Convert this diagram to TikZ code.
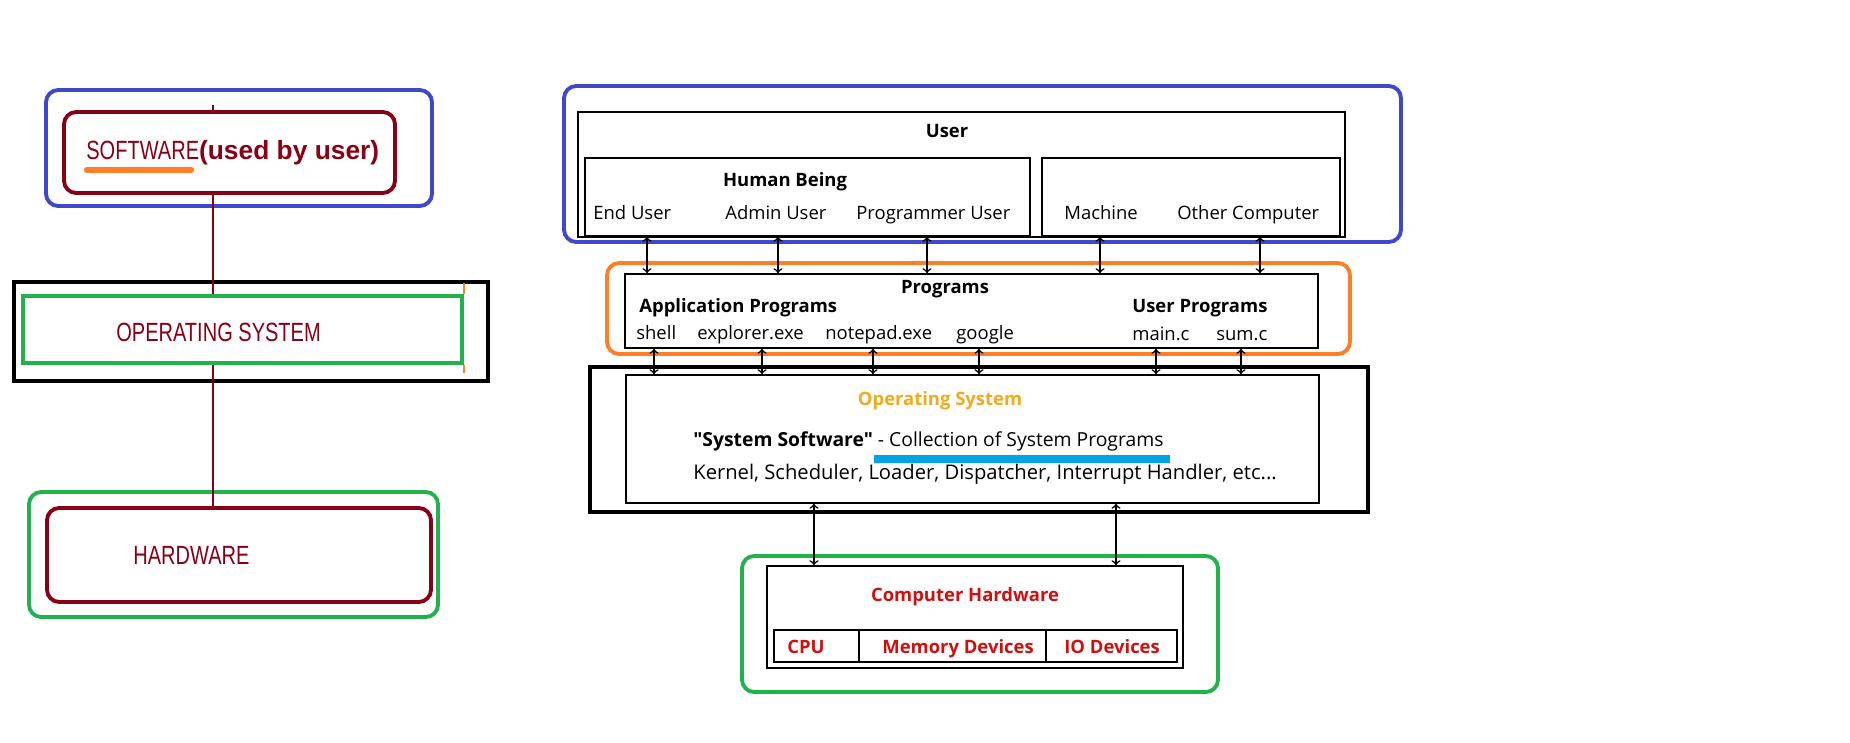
\documentclass[tikz,border=0pt]{standalone}
\usepackage{fontspec}
\usepackage{graphicx}
\setmainfont{Open Sans}
\newfontfamily\quotefont{Open Sans}
\newfontfamily\arialfont{Liberation Sans}
\usetikzlibrary{fit}

\definecolor{swred}{RGB}{136,0,21}
\definecolor{penblue}{RGB}{63,72,204}
\definecolor{pengreen}{RGB}{34,177,76}
\definecolor{penorange}{RGB}{255,127,39}
\definecolor{penskyblue}{RGB}{0,162,232}
\definecolor{ostext}{RGB}{240,172,30}
\definecolor{hwtext}{RGB}{208,16,16}
\newcommand{\condensed}[1]{\scalebox{0.76}[1]{#1}}

\begin{document}
\begin{tikzpicture}[x=0.02cm,y=-0.02cm,
    font=\fontsize{10.5}{12}\selectfont,
    ring/.style={draw,line width=2.2pt,rounded corners=7pt,inner sep=0pt},
    pane/.style={draw,line width=1pt,inner sep=0pt},
    txt/.style={inner sep=0pt,anchor=base west},
    ctxt/.style={inner sep=0pt,anchor=base},
    bigtxt/.style={inner sep=0pt,anchor=base west,text=swred,font=\arialfont\fontsize{15}{18}\selectfont},
    arr/.style={<->,line width=0.9pt}]
    \fill[white] (0,0) rectangle (1850,743);

    % left: software / os / hardware
    \node[ring,penblue,fit={(46,90) (432,206)}] (swring) {};
    \node[ring,swred,fit={(64,112) (395,193)}] (swbox) {};
    \node[bigtxt] (swlbl) at (86,160) {\condensed{SOFTWARE}\textbf{(used by user)}};
    \draw[penorange,line width=3.6pt,line cap=round] (87,170) -- (191,170);

    \node[draw,line width=2.3pt,inner sep=0pt,fit={(14,282) (488,381)}] (osframeL) {};
    \node[draw,pengreen,line width=1.9pt,inner sep=0pt,fit={(23,296) (462,363)}] (osboxL) {};
    \node[bigtxt] (oslblL) at (116,341) {\condensed{OPERATING SYSTEM}};
    \draw[penorange,line width=1.2pt] (osboxL.north east) -- ++(0,-11);
    \draw[penorange,line width=1.2pt] (osboxL.south east) -- ++(0,8);

    \node[ring,pengreen,fit={(29,492) (438,617)}] (hwringL) {};
    \node[ring,swred,fit={(47,508) (431,602)}] (hwboxL) {};
    \node[bigtxt] (hwlblL) at (133,564) {\condensed{HARDWARE}};

    \draw[swred,line width=1.2pt] (swbox.north -| 213,0) -- ++(0,-5);
    \draw[swred,line width=1.2pt] (swbox.south -| 213,0) -- (osboxL.north -| 213,0);
    \draw[swred,line width=1.2pt] (osboxL.south -| 213,0) -- (hwboxL.north -| 213,0);

    % right: user
    \node[ring,penblue,fit={(564,86) (1401,242)}] (userring) {};
    \node[pane,fit={(578,112) (1345,237)}] (user) {};
    \node[pane,fit={(585,158) (1030,236)}] (human) {};
    \node[pane,fit={(1042,158) (1340,236)}] (machine) {};
    \node[ctxt] at (947,138) {\textbf{User}};
    \node[ctxt] at (785,187) {\textbf{Human Being}};
    \node[txt] at (593,220) {End User};
    \node[txt] at (725,220) {Admin User};
    \node[txt] at (856,220) {Programmer User};
    \node[txt] at (1064,220) {Machine};
    \node[txt] at (1177,220) {Other Computer};

    % programs
    \node[ring,penorange,fit={(607,263) (1350,354)}] (progring) {};
    \node[pane,fit={(625,274) (1318,348)}] (prog) {};
    \node[ctxt] at (945,294) {\textbf{Programs}};
    \node[txt] at (639,313) {\textbf{Application Programs}};
    \node[txt] at (1132,313) {\textbf{User Programs}};
    \node[txt] at (636,339) {shell};
    \node[txt] at (697,339) {explorer.exe};
    \node[txt] at (825,339) {notepad.exe};
    \node[txt] at (956,339) {google};
    \node[txt] at (1132,340) {main.c};
    \node[txt] at (1216,340) {sum.c};

    % operating system
    \node[draw,line width=2.7pt,inner sep=0pt,fit={(590,367) (1368,512)}] (osframe) {};
    \node[pane,fit={(626,375) (1319,503)}] (os) {};
    \node[ctxt,text=ostext] at (940,405) {\textbf{Operating System}};
    \node[txt,font=\fontsize{11}{13}\selectfont] at (693,446) {{\quotefont\bfseries "System Software"} - Collection of System Programs};
    \draw[penskyblue,line width=4pt] (874,459) -- (1170,459);
    \node[txt,font=\fontsize{11.5}{13}\selectfont] at (693,479) {Kernel, Scheduler, Loader, Dispatcher, Interrupt Handler, etc...};

    % hardware
    \node[ring,pengreen,fit={(742,556) (1218,692)}] (hwring) {};
    \node[pane,fit={(767,566) (1183,668)}] (hw) {};
    \node[ctxt,text=hwtext] at (965,601) {\textbf{Computer Hardware}};
    \node[pane,fit={(774,630) (859,662)}] (cpu) {};
    \node[pane,fit={(859,630) (1046,662)}] (mem) {};
    \node[pane,fit={(1046,630) (1177,662)}] (io) {};
    \node[txt,text=hwtext] at (787,653) {\textbf{CPU}};
    \node[txt,text=hwtext] at (882,653) {\textbf{Memory Devices}};
    \node[txt,text=hwtext] at (1064,653) {\textbf{IO Devices}};

    % arrows
    \foreach \ax in {647,778,927}
        \draw[arr] (human.south -| \ax,0) -- (prog.north -| \ax,0);
    \foreach \ax in {1100,1260}
        \draw[arr] (machine.south -| \ax,0) -- (prog.north -| \ax,0);
    \foreach \ax in {654,762,873,979,1156,1241}
        \draw[arr] (prog.south -| \ax,0) -- (os.north -| \ax,0);
    \foreach \ax in {814,1116}
        \draw[arr] (os.south -| \ax,0) -- (hw.north -| \ax,0);
\end{tikzpicture}
\end{document}
